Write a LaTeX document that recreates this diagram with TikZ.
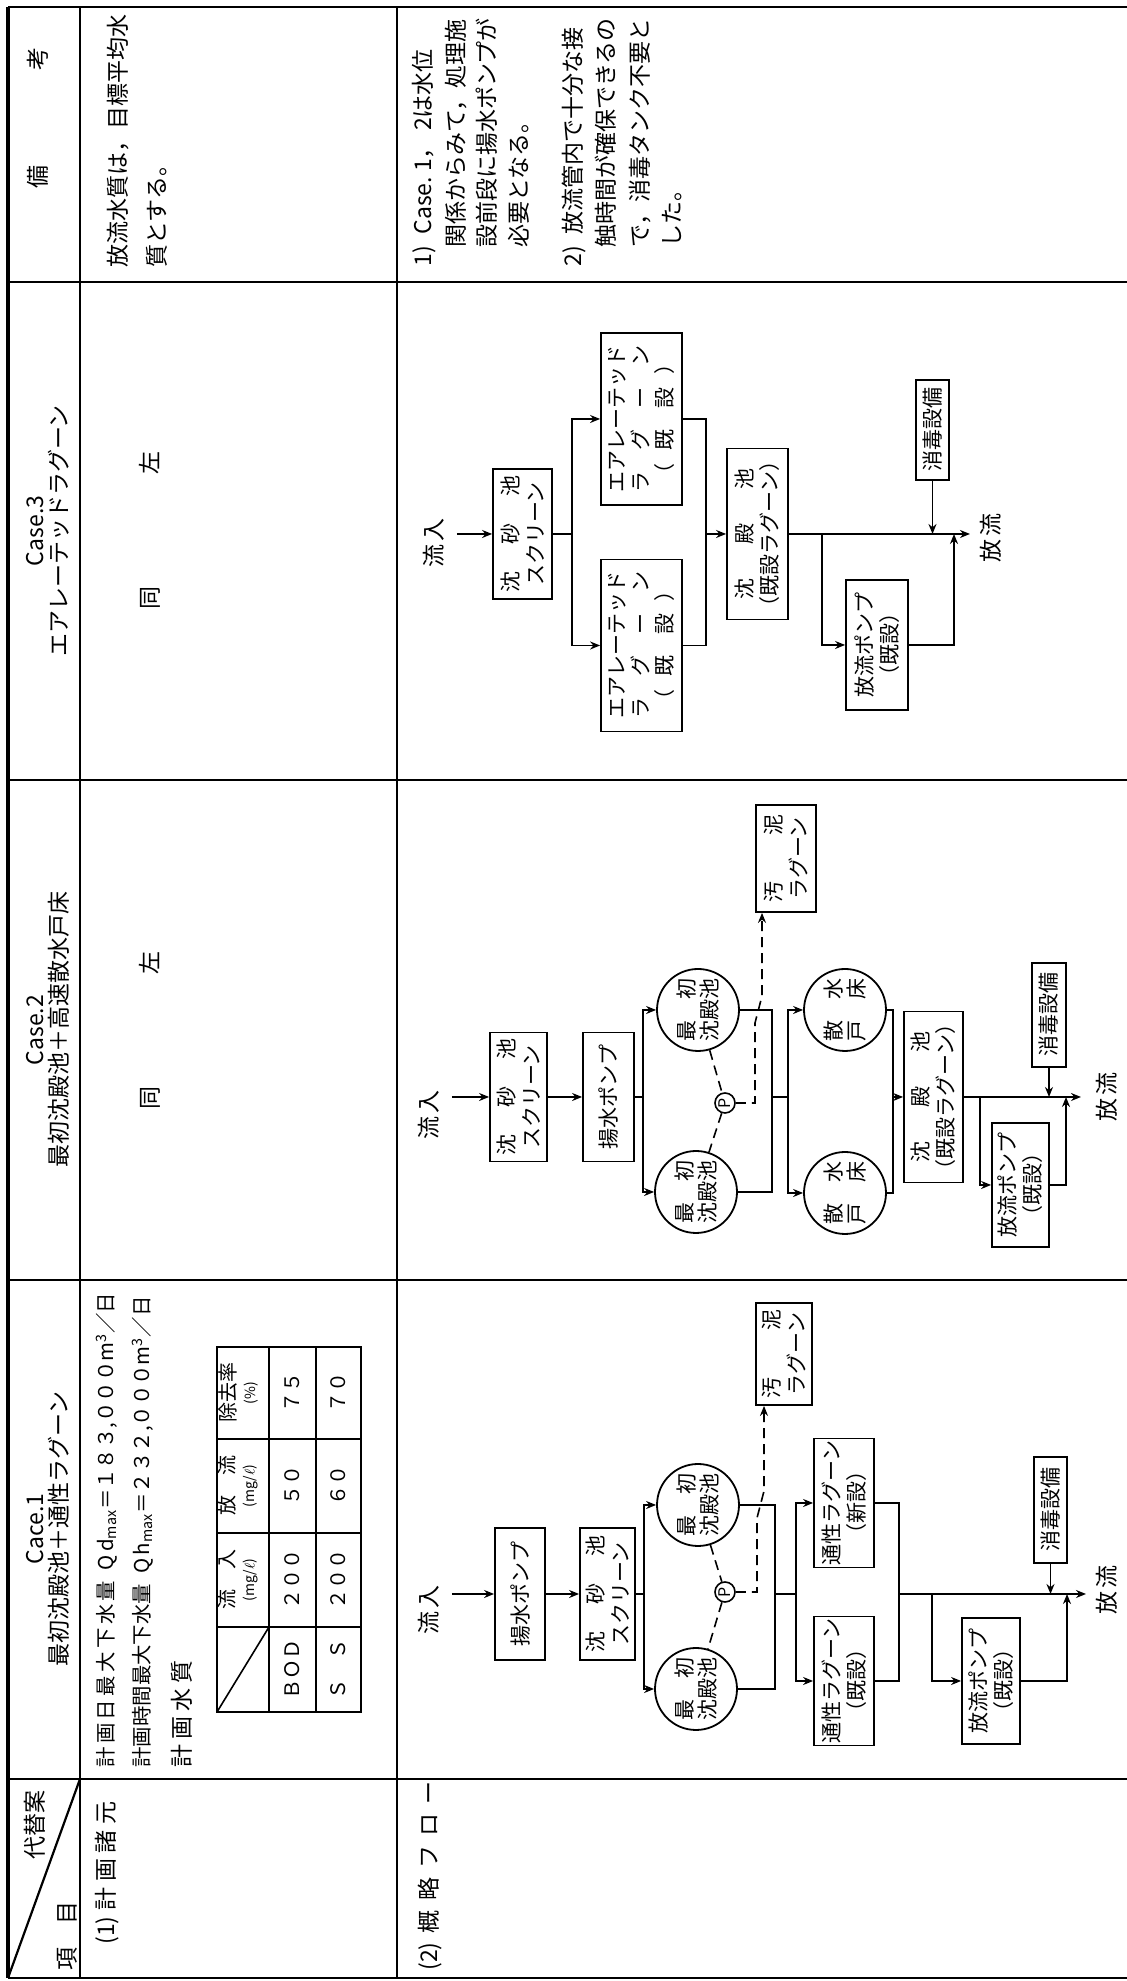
\documentclass[tikz,border=0pt]{standalone}
\usepackage{fontspec}
\setmainfont{Noto Sans CJK JP}
\usetikzlibrary{arrows.meta,positioning}

\tikzset{
  tabline/.style={line width=1.1pt},
  cellline/.style={line width=0.9pt},
  txt/.style={inner sep=0pt, font=\fontsize{11.5}{14}\selectfont},
  coltitle/.style={inner sep=0pt, align=center, font=\fontsize{11.5}{12}\selectfont},
  cellfont/.style={inner sep=0pt, align=center, font=\fontsize{10}{10}\selectfont},
  unitbox/.style={draw, line width=0.9pt, align=center, inner sep=1pt,
    font=\fontsize{10.5}{12.5}\selectfont},
  basin/.style={draw, circle, line width=0.9pt, align=center, inner sep=0pt,
    minimum size=41pt, font=\fontsize{10.5}{11.5}\selectfont},
  pmark/.style={draw, circle, line width=0.8pt, inner sep=0pt, minimum size=10pt,
    font=\fontsize{8}{8}\selectfont},
  flow/.style={line width=0.8pt},
  feed/.style={flow, -{Stealth[length=5pt,width=4pt]}},
  sludgelink/.style={flow, dash pattern=on 5pt off 3pt},
  sludge/.style={feed, dash pattern=on 5pt off 3pt},
}

\begin{document}
\begin{tikzpicture}
\begin{scope}[rotate=90, transform shape, x=0.5pt, y=-0.5pt]
\useasboundingbox (0,0) rectangle (1981,1127);

% table frame
\draw[tabline, line width=1.8pt] (3,8) -- (1974,8);
\draw[tabline] (3,80) -- (1974,80);
\draw[tabline] (3,397) -- (1974,397);
\draw[tabline] (3,8) -- (3,1127);
\draw[tabline] (202,8) -- (202,1127);
\draw[tabline] (701,8) -- (701,1127);
\draw[tabline] (1201,8) -- (1201,1127);
\draw[tabline] (1699,8) -- (1699,1127);
\draw[tabline] (1974,8) -- (1974,1127);
\draw[tabline] (3,8) -- (202,80);

% header row
\node[txt] (hdalt) at (156,35) {代替案};
\node[txt] (hditem) at (45,67) {項\hspace{1em}目};
\node[coltitle] (hd1) at (452,48) {Cace.1\\最初沈殿池＋通性ラグーン};
\node[coltitle] (hd2) at (951,48) {Case.2\\最初沈殿池＋高速散水戸床};
\node[coltitle] (hd3) at (1450,48) {Case.3\\エアレーテッドラグーン};
\node[txt] (hdnote) at (1863,38) {備\hspace{4.1em}考};

% (1) design data
\node[txt, anchor=west] (it1) at (36,107)
  {(1)\hspace{0.25em}計\hspace{0.25em}画\hspace{0.25em}諸\hspace{0.25em}元};
\node[txt, anchor=west, font=\fontsize{10.2}{12}\selectfont] (qd) at (213,107)
  {計\,画\,日\,最\,大\,下\,水\,量\enspace Q\,d\textsubscript{max}＝１８３,０００m\textsuperscript{3}／日};
\node[txt, anchor=west, font=\fontsize{10.2}{12}\selectfont] (qh) at (213,143)
  {計画時間最大下水量\enspace Q\,h\textsubscript{max}＝２３２,０００m\textsuperscript{3}／日};
\node[txt, anchor=west] (wq) at (213,182) {計\ 画\ 水\ 質};

\draw[cellline] (269,217) rectangle (634,361);
\draw[cellline] (269,269) -- (634,269);
\draw[cellline] (269,316) -- (634,316);
\draw[cellline] (354,217) -- (354,361);
\draw[cellline] (448,217) -- (448,361);
\draw[cellline] (542,217) -- (542,361);
\draw[line width=0.8pt] (269,217) -- (354,269);
\node[cellfont] (thin) at (401,238) {流\hspace{1em}入\\{\fontsize{7}{8}\selectfont (mg/$\ell$)}};
\node[cellfont] (thout) at (495,238) {放\hspace{1em}流\\{\fontsize{7}{8}\selectfont (mg/$\ell$)}};
\node[cellfont] (thrate) at (588,238) {除去率\\{\fontsize{7}{8}\selectfont (\%)}};
\node[cellfont] (bod) at (311.5,292.5) {ＢＯＤ};
\node[cellfont] (bodin) at (401,292.5) {２００};
\node[cellfont] (bodout) at (495,292.5) {５０};
\node[cellfont] (bodrate) at (588,292.5) {７５};
\node[cellfont] (ss) at (311.5,338.5) {Ｓ　Ｓ};
\node[cellfont] (ssin) at (401,338.5) {２００};
\node[cellfont] (ssout) at (495,338.5) {６０};
\node[cellfont] (ssrate) at (588,338.5) {７０};

\node[txt] (same2) at (950,150) {同\hspace{56pt}左};
\node[txt] (same3) at (1450,150) {同\hspace{56pt}左};
\node[txt, anchor=west] (nt1a) at (1713,118) {放流水質は，目標平均水};
\node[txt, anchor=west] (nt1b) at (1713,157) {質とする。};

% (2) outline flow
\node[txt, anchor=west] (it2) at (10,430)
  {(2)\hspace{0.4em}概\hspace{0.4em}略\hspace{0.4em}フ\hspace{0.4em}ロ\hspace{0.4em}ー};

% Case.1
\node[txt] (in1) at (371,429) {流\,入};
\node[unitbox, minimum width=66pt, minimum height=25pt] (pu1) at (387,520) {揚水ポンプ};
\node[unitbox, minimum width=66pt, minimum height=27.5pt] (sc1) at (387,607.5) {沈\hspace{1.3em}砂\hspace{1.3em}池\\スクリーン};
\coordinate (j1) at (387,644);
\node[basin] (c1a) at (476,698) {最\hspace{1em}初\\沈殿池};
\node[basin] (c1b) at (292,696) {最\hspace{1em}初\\沈殿池};
\node[pmark] (p1) at (389,725) {P};
\coordinate (m1) at (387,775);
\coordinate (j1b) at (387,796);
\node[unitbox, minimum width=63pt, minimum height=30pt] (lg1n) at (478,844) {通性ラグーン\\（新設）};
\node[unitbox, minimum width=63pt, minimum height=30pt] (lg1e) at (300,844) {通性ラグーン\\（既設）};
\coordinate (m1b) at (387,899);
\coordinate (k1) at (387,932);
\node[unitbox, minimum width=63pt, minimum height=29pt] (pm1) at (300,991) {放流ポンプ\\（既設）};
\coordinate (r1) at (387,1067);
\node[unitbox, minimum width=53pt, minimum height=16.5pt] (d1) at (471,1050.5) {消毒設備};
\coordinate (out1) at (387,1086);
\node[txt] (ef1) at (391,1107) {放\,流};
\node[unitbox, minimum width=51pt, minimum height=28pt] (sl1) at (627,784) {汚\hspace{2.2em}泥\\ラグーン};

\draw[feed, shorten <=6pt] (in1.south -| pu1.north) -- (pu1.north);
\draw[feed] (pu1.south) -- (sc1.north);
\draw[flow] (sc1.south) -- (j1);
\draw[feed] (j1) -| (c1a.north);
\draw[feed] (j1) -| (c1b.north);
\draw[flow] (c1a.south) |- (m1);
\draw[flow] (c1b.south) |- (m1);
\draw[flow] (m1) -- (j1b);
\draw[feed] (j1b) -| (lg1n.north);
\draw[feed] (j1b) -| (lg1e.north);
\draw[flow] (lg1n.south) |- (m1b);
\draw[flow] (lg1e.south) |- (m1b);
\draw[feed] (m1b) -- (out1);
\draw[feed] (k1) -| (pm1.north);
\draw[feed] (pm1.south) |- (r1);
\draw[feed] (d1.west) -- (d1.west -| out1);
\draw[sludgelink] (c1a) -- (p1) -- (c1b);
\draw[sludge] (p1.south) |- (463,757) -- (490,764) -- (sl1.west |- 0,764);

% Case.2
\node[txt] (in2) at (866,429) {流\,入};
\node[unitbox, minimum width=64.5pt, minimum height=28.5pt] (sc2) at (884,518.5) {沈\hspace{1.3em}砂\hspace{1.3em}池\\スクリーン};
\node[unitbox, minimum width=64.5pt, minimum height=25.5pt] (pu2) at (884,608.5) {揚水ポンプ};
\coordinate (j2) at (884,643);
\node[basin] (c2a) at (971,698) {最\hspace{1em}初\\沈殿池};
\node[basin] (c2b) at (789,696) {最\hspace{1em}初\\沈殿池};
\node[pmark] (p2) at (878,725) {P};
\coordinate (m2) at (884,772);
\coordinate (j2b) at (884,788);
\node[basin] (tf2a) at (971,845) {散\hspace{1em}水\\戸\hspace{1em}床};
\node[basin] (tf2b) at (788,845) {散\hspace{1em}水\\戸\hspace{1em}床};
\coordinate (m2b) at (884,893);
\node[unitbox, minimum width=84pt, minimum height=29.5pt] (sd2) at (884,933.5) {沈\hspace{1.6em}殿\hspace{1.6em}池\\（既設ラグーン）};
\coordinate (k2) at (884,980);
\node[unitbox, minimum width=62pt, minimum height=28.5pt] (pm2) at (796,1020.5) {放流ポンプ\\（既設）};
\coordinate (r2) at (884,1066);
\node[unitbox, minimum width=52pt, minimum height=17pt] (d2) at (966,1049) {消毒設備};
\coordinate (out2) at (884,1081);
\node[txt] (ef2) at (884,1107) {放\,流};
\node[unitbox, minimum width=53.5pt, minimum height=30pt] (sl2) at (1122.5,786) {汚\hspace{2.2em}泥\\ラグーン};

\draw[feed, shorten <=6pt] (in2.south -| sc2.north) -- (sc2.north);
\draw[feed] (sc2.south) -- (pu2.north);
\draw[flow] (pu2.south) -- (j2);
\draw[feed] (j2) -| (c2a.north);
\draw[feed] (j2) -| (c2b.north);
\draw[flow] (c2a.south) |- (m2);
\draw[flow] (c2b.south) |- (m2);
\draw[flow] (m2) -- (j2b);
\draw[feed] (j2b) -| (tf2a.north);
\draw[feed] (j2b) -| (tf2b.north);
\draw[flow] (tf2a.south) |- (m2b);
\draw[flow] (tf2b.south) |- (m2b);
\draw[feed] (m2b) -- (sd2.north);
\draw[feed] (sd2.south) -- (out2);
\draw[feed] (k2) -| (pm2.north);
\draw[feed] (pm2.south) |- (r2);
\draw[feed] (d2.west) -- (d2.west -| out2);
\draw[sludgelink] (c2a) -- (p2) -- (c2b);
\draw[sludge] (p2.south) |- (958,755) -- (985,762) -- (sl2.west |- 0,762);

% Case.3
\node[txt] (in3) at (1438,434) {流\,入};
\node[unitbox, minimum width=65pt, minimum height=29.5pt] (sc3) at (1447,522.5) {沈\hspace{1.3em}砂\hspace{1.3em}池\\スクリーン};
\coordinate (j3) at (1447,572);
\node[unitbox, minimum width=86pt, minimum height=40.5pt, font=\fontsize{10.5}{12}\selectfont] (ae3r) at (1562,641.5)
  {エアレーテッド\\ラ\hspace{1em}グ\hspace{1em}ー\hspace{1em}ン\\（\hspace{0.6em}既\hspace{1em}設\hspace{0.6em}）};
\node[unitbox, minimum width=86pt, minimum height=40.5pt, font=\fontsize{10.5}{12}\selectfont] (ae3l) at (1335.5,641.5)
  {エアレーテッド\\ラ\hspace{1em}グ\hspace{1em}ー\hspace{1em}ン\\（\hspace{0.6em}既\hspace{1em}設\hspace{0.6em}）};
\coordinate (m3) at (1447,706);
\node[unitbox, minimum width=82.5pt, minimum height=30.5pt] (sd3) at (1447,757.5) {沈\hspace{1.6em}殿\hspace{1.6em}池\\（既設ラグーン）};
\coordinate (k3) at (1447,822);
\node[unitbox, minimum width=65pt, minimum height=31pt] (pm3) at (1336,877) {放流ポンプ\\（既設）};
\coordinate (r3) at (1447,954);
\node[unitbox, minimum width=50pt, minimum height=16.5pt] (d3) at (1551,932.5) {消毒設備};
\coordinate (out3) at (1447,970);
\node[txt] (ef3) at (1443,991) {放\,流};

\draw[feed, shorten <=6pt] (in3.south -| sc3.north) -- (sc3.north);
\draw[flow] (sc3.south) -- (j3);
\draw[feed] (j3) -| (ae3r.north);
\draw[feed] (j3) -| (ae3l.north);
\draw[flow] (ae3r.south) |- (m3);
\draw[flow] (ae3l.south) |- (m3);
\draw[feed] (m3) -- (sd3.north);
\draw[feed] (sd3.south) -- (out3);
\draw[feed] (k3) -| (pm3.north);
\draw[feed] (pm3.south) |- (r3);
\draw[feed] (d3.west) -- (d3.west -| out3);

% remarks
\node[txt, anchor=west] (nt2a) at (1714,424) {1)\enspace Case.\ 1，\ 2は水位};
\node[txt, anchor=west] (nt2b) at (1733,456) {関係からみて，処理施};
\node[txt, anchor=west] (nt2c) at (1733,487) {設前段に揚水ポンプが};
\node[txt, anchor=west] (nt2d) at (1733,519) {必要となる。};
\node[txt, anchor=west] (nt2e) at (1714,574) {2)\enspace 放流管内で十分な接};
\node[txt, anchor=west] (nt2f) at (1733,606) {触時間が確保できるの};
\node[txt, anchor=west] (nt2g) at (1733,640) {で，消毒タンク不要と};
\node[txt, anchor=west] (nt2h) at (1733,672) {した。};
\end{scope}
\end{tikzpicture}
\end{document}
